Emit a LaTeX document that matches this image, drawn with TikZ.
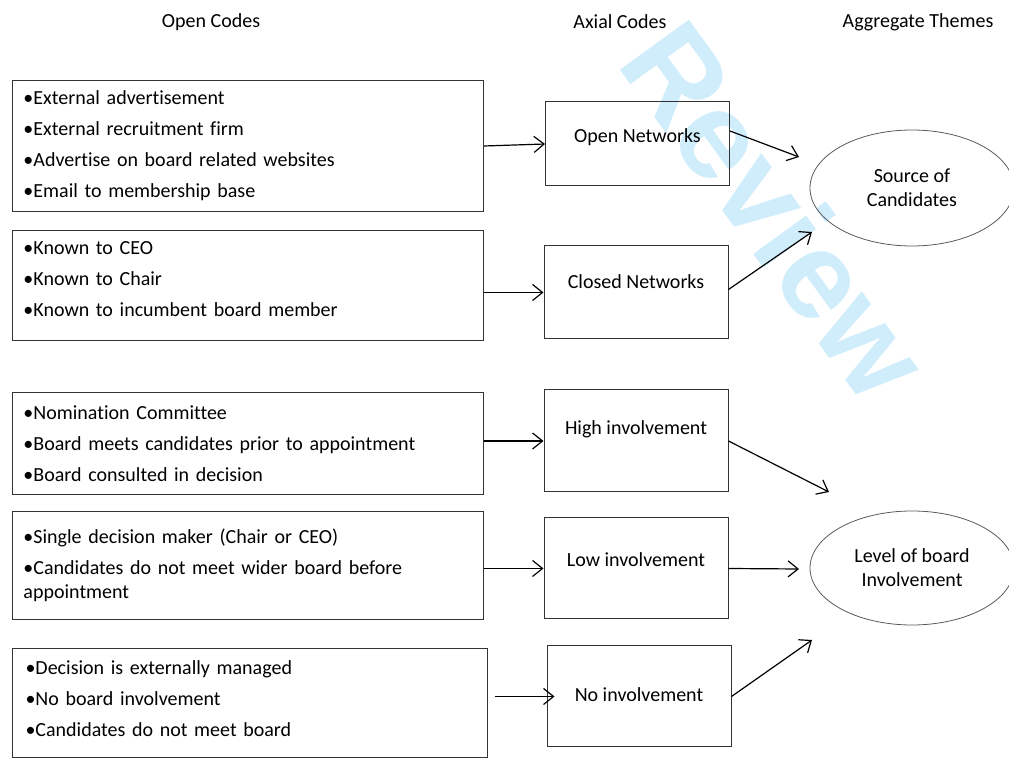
\documentclass[tikz,border=0pt]{standalone}
\usepackage{fontspec}
\setmainfont{Carlito}[Ligatures=NoCommon]
\newfontfamily\wmfont{Liberation Sans}
\usepackage{tikz}
\usetikzlibrary{arrows.meta,positioning,shapes.geometric}
\definecolor{wmark}{RGB}{208,237,251}

\begin{document}
\begin{tikzpicture}[
  x=0.5pt,y=-0.5pt,
  every node/.style={font=\fontsize{10}{12}\selectfont},
  head/.style={inner sep=0pt},
  codebox/.style={draw=black!80,line width=0.5pt,anchor=north west,align=left,
                  inner xsep=5.5pt,inner ysep=0pt},
  axialbox/.style={draw=black!80,line width=0.5pt,minimum width=92pt,
                   align=center,text depth=11pt},
  theme/.style={ellipse,draw=black!65,line width=0.4pt,minimum width=102pt,
                minimum height=58pt,align=center,inner sep=0pt},
  arrow/.style={-{Straight Barb[length=5pt,width=8pt]},line width=0.6pt}
]
  \useasboundingbox (0,0) rectangle (1009,764);
  % watermark
  \node[font=\wmfont\fontsize{62}{62}\selectfont\bfseries,text=wmark,rotate=-54,
        inner sep=0pt,anchor=base west] (wm) at (615,63) {Review};

  % column titles
  \node[head] (hopen) at (211,22) {Open Codes};
  \node[head] (haxial) at (620,22) {Axial Codes};
  \node[head] (htheme) at (918,22) {Aggregate Themes};

  % open codes
  \node[codebox,text width=224.5pt,minimum height=65.5pt] (oc1) at (12,80)
    {•External advertisement\\[3.5pt] •External recruitment firm\\[3.5pt]
     •Advertise on board related websites\\[3.5pt] •Email to membership base};
  \node[codebox,text width=224.5pt,minimum height=55pt] (oc2) at (12,230)
    {•Known to CEO\\[3.5pt] •Known to Chair\\[3.5pt] •Known to incumbent board member\\[-6pt]\mbox{}};
  \node[codebox,text width=224.5pt,minimum height=51pt] (oc3) at (12,392)
    {•Nomination Committee\\[3.5pt] •Board meets candidates prior to appointment\\[3.5pt]
     •Board consulted in decision};
  \node[codebox,text width=224.5pt,minimum height=54pt] (oc4) at (12,511)
    {•Single decision maker (Chair or CEO)\\[3.5pt]
     •Candidates do not meet wider board before\\ appointment};
  \node[codebox,text width=224.5pt,minimum height=54.5pt,inner xsep=6.5pt]
    (oc5) at (12,648)
    {•Decision is externally managed\\[3.5pt] •No board involvement\\[3.5pt]
     •Candidates do not meet board\\[-8pt]\mbox{}};

  % axial codes
  \node[axialbox,minimum height=42pt,text depth=8pt] (open) at (637.5,144) {Open Networks};
  \node[axialbox,minimum height=46.5pt] (closed) at (636,292.5) {Closed Networks};
  \node[axialbox,minimum height=51pt,text depth=13pt] (high) at (636,441) {High involvement};
  \node[axialbox,minimum height=50.5pt,text depth=9pt] (low) at (636,568.5) {Low involvement};
  \node[axialbox,minimum height=50.5pt,text depth=2pt] (none) at (639,696.5) {No involvement};

  % aggregate themes
  \node[theme] (source) at (912,188) {Source of\\Candidates};
  \node[theme,minimum height=57pt] (level) at (912,568) {Level of board\\Involvement};

  \coordinate (src1) at (799,157);
  \coordinate (src2) at (812,232);
  \coordinate (lvl1) at (829,492);
  \coordinate (lvl2) at (799,569);
  \coordinate (lvl3) at (812,640);

  \draw[arrow] (oc1.east) -- (open.west);
  \draw[arrow] (oc2.east |- closed) -- (closed.west);
  \draw[arrow] (oc3.east |- high) -- (high.west);
  \draw[arrow] (oc4.east |- low) -- (low.west);
  \draw[arrow,shorten <=3.5pt,shorten >=-4pt] (oc5.east |- none) -- (none.west);

  \draw[arrow] ([yshift=6.5pt]open.east) -- (src1);
  \draw[arrow] ([yshift=1.5pt]closed.east) -- (src2);
  \draw[arrow] (high.east) -- (lvl1);
  \draw[arrow] (low.east) -- (lvl2);
  \draw[arrow] (none.east) -- (lvl3);
\end{tikzpicture}
\end{document}
